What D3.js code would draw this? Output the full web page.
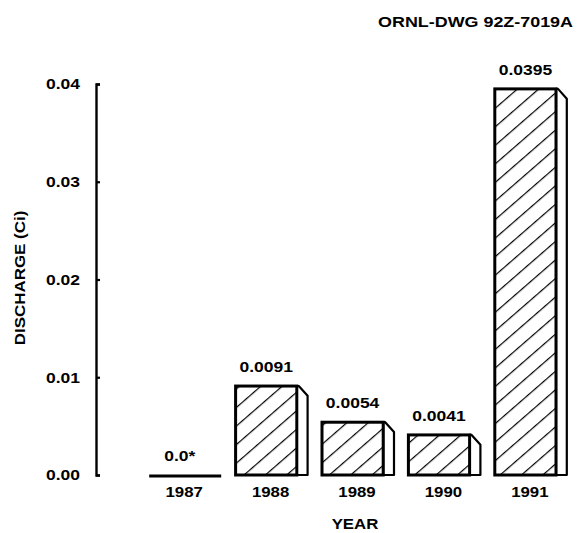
<!DOCTYPE html>
<html><head><meta charset="utf-8">
<script src="https://cdn.jsdelivr.net/npm/d3@7"></script>
<style>
html,body{margin:0;padding:0;background:#fff;}
svg text{font-family:"Liberation Sans",Arial,Helvetica,sans-serif;font-weight:bold;fill:#000;}
</style></head>
<body>
<svg id="chart" width="578" height="533"></svg>
<script>
const years = ["1987", "1988", "1989", "1990", "1991"];
const discharge = [0, 0.0091, 0.0054, 0.0041, 0.0395];
const valueLabels = ["0.0*", "0.0091", "0.0054", "0.0041", "0.0395"];
const yTicks = [0, 0.01, 0.02, 0.03, 0.04];
const title = "ORNL-DWG 92Z-7019A";
const yTitle = "DISCHARGE (Ci)";
const xTitle = "YEAR";

const svg = d3.select("#chart");
svg.append("rect").attr("width",578).attr("height",533).attr("fill","#fff");

const defs = svg.append("defs");
const pat = defs.append("pattern").attr("id","hatch").attr("patternUnits","userSpaceOnUse")
  .attr("width",14).attr("height",14).attr("patternTransform","rotate(49)");
pat.append("rect").attr("width",14).attr("height",14).attr("fill","#fff");
pat.append("line").attr("x1",0).attr("y1",0).attr("x2",0).attr("y2",14)
  .attr("stroke","#000").attr("stroke-width",2.4);

const x = d3.scaleBand().domain(years).range([142, 574]).paddingInner(0.1667).paddingOuter(0.0833);
const y = d3.scaleLinear().domain([0, 0.04]).range([475, 84]);
const axisX = 96;

function sText(parent, tx, ty, str, size, sx, anchor) {
  return parent.append("text")
    .attr("transform", `translate(${tx},${ty}) scale(${sx},1)`)
    .attr("text-anchor", anchor).attr("dy","0.35em")
    .style("font-size", size+"px").text(str);
}

// Title
sText(svg, 573, 22, title, 14, 1.28, "end");

// Y axis
const yAxis = d3.axisLeft(y).tickValues(yTicks).tickFormat(d3.format(".2f"))
  .tickSizeInner(-4).tickSizeOuter(-4);
const gy = svg.append("g").attr("transform",`translate(${axisX},0)`).call(yAxis);
gy.attr("font-family",null).attr("font-size",null);
gy.select(".domain").attr("stroke","#000").attr("stroke-width",2.4).attr("fill","none");
gy.selectAll(".tick line").attr("stroke","#000").attr("stroke-width",2.2);
gy.selectAll(".tick text").attr("x",0).attr("dy","0.35em")
  .attr("transform","translate(-16,0) scale(1.25,1)")
  .style("font-size","14px");

// Y title
svg.append("text").attr("transform",`translate(20,278) rotate(-90) scale(1.13,1)`)
  .attr("text-anchor","middle").attr("dy","0.35em").style("font-size","15px").text(yTitle);

// X title
sText(svg, 355, 524, xTitle, 14, 1.2, "middle");

// Bars
const data = years.map((yr,i)=>({year:yr, v:discharge[i], label:valueLabels[i]}));
const bw = x.bandwidth();
const frontW = bw*0.85;
const sideW = bw - frontW;
const g = svg.append("g");
data.forEach(d => {
  const x0 = x(d.year);
  const top = y(d.v), base = y(0);
  if (d.v > 0) {
    // side face
    g.append("path")
      .attr("d", `M${x0+frontW},${top}L${x0+frontW+2},${top}L${x0+bw},${top+sideW-1}L${x0+bw},${base}L${x0+frontW},${base}Z`)
      .attr("fill","#fff").attr("stroke","#000").attr("stroke-width",2.2).attr("stroke-linejoin","round");
    // front face
    g.append("rect").attr("x",x0).attr("y",top).attr("width",frontW).attr("height",base-top)
      .attr("fill","url(#hatch)").attr("stroke","#000").attr("stroke-width",3);
  } else {
    g.append("line").attr("x1",x0).attr("x2",x0+bw).attr("y1",base+1).attr("y2",base+1)
      .attr("stroke","#000").attr("stroke-width",3.2);
  }
  sText(g, x0+frontW/2, top-19, d.label, 14, 1.25, "middle");
  sText(g, x0+bw/2-1, 492, d.year, 14, 1.2, "middle");
});
</script>
</body></html>
